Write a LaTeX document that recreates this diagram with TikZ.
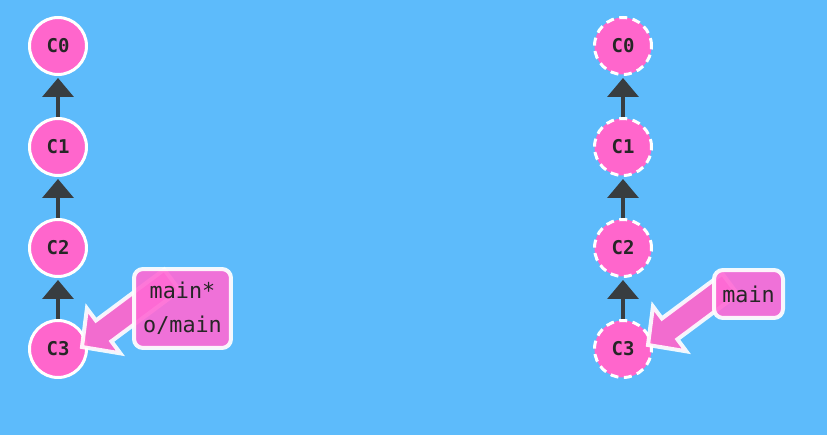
\documentclass[tikz,border=0pt]{standalone}
\usepackage{fontspec}
\newfontfamily\codefont{DejaVu Sans Mono}
\usetikzlibrary{arrows.meta,calc}

\definecolor{sky}{HTML}{5DBBFB}
\definecolor{commitpink}{HTML}{FF66CC}
\definecolor{refpink}{HTML}{FF6AD5}
\definecolor{edgegray}{HTML}{383D40}

% block arrow from a branch label (#1, tail) to a commit (#2, tip)
\newcommand\refpointer[2]{%
  \coordinate (hb) at ($(#2)!0.54cm!(#1)$);
  \filldraw[commitpink, fill opacity=0.92, draw=white, draw opacity=0.9,
    line width=0.08cm, line join=miter]
    (#2) -- ($(hb)!0.56cm!90:(#1)$) -- ($(hb)!0.26cm!90:(#1)$)
    -- ($(#1)!0.26cm!-90:(hb)$) -- ($(#1)!0.26cm!90:(hb)$)
    -- ($(hb)!0.26cm!-90:(#1)$) -- ($(hb)!0.56cm!-90:(#1)$) -- cycle;
}

\begin{document}
\begin{tikzpicture}[
  x=0.02cm, y=-0.02cm,
  commit/.style={circle, fill=commitpink, draw=white, line width=0.06cm,
    minimum size=1.14cm, inner sep=0pt, text=black!85,
    font=\codefont\bfseries\fontsize{10.8}{13}\selectfont},
  ghost/.style={dash pattern=on 0.16cm off 0.11cm},
  parent/.style={draw=edgegray, line width=0.07cm,
    -{Triangle[width=0.62cm,length=0.38cm]}, shorten >=0.04cm},
  branch/.style={rounded corners=0.18cm, fill=refpink, fill opacity=0.9,
    text opacity=1, draw=white, draw opacity=0.92, line width=0.08cm,
    align=center, inner sep=0pt, text=black!85,
    font=\codefont\fontsize{12.4}{19.3}\selectfont}
  ]
\fill[sky] (0,0) rectangle (827,435);

\foreach \i/\y in {0/46,1/147,2/248,3/349} {
  \node[commit] (l\i) at (58,\y) {C\i};
  \node[commit, ghost] (r\i) at (623,\y) {C\i};
}
\foreach \i/\j in {1/0,2/1,3/2} {
  \draw[parent] (l\i) -- (l\j);
  \draw[parent] (r\i) -- (r\j);
}

% left: local main and origin/main
\coordinate (ltail) at (172,280);
\coordinate (ltip) at ($(l3)+(24,-2)$);
\refpointer{ltail}{ltip}
\node[branch, minimum width=1.94cm, minimum height=1.58cm] (lmain) at (182.5,308.5)
  {main*\\o/main};

% right: remote main
\coordinate (rtail) at (730,284);
\coordinate (rtip) at ($(r3)+(25,-4)$);
\refpointer{rtail}{rtip}
\node[branch, minimum width=1.38cm, minimum height=0.96cm] (rmain) at (748.5,294)
  {main};
\end{tikzpicture}
\end{document}
